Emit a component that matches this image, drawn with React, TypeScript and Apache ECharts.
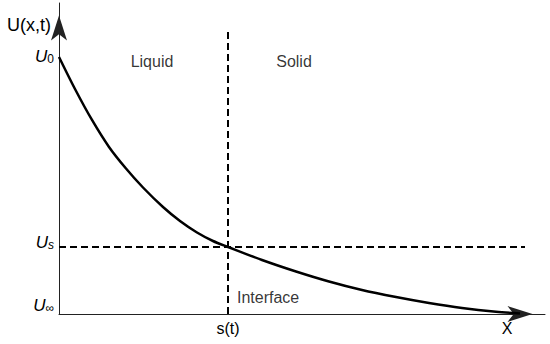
import React, { useEffect, useRef } from 'react';
import * as echarts from 'echarts';

// Axis extents (data units: x in arbitrary length units, U normalised so U∞ = 0, U0 = 1)
const X_MAX = 486;
const Y_MAX = 1.21;

// Decaying profile U(x,t)
const curveX = [0, 16, 33, 50, 67, 84, 104, 121, 138, 154, 169, 203, 237, 270, 303, 337, 370, 403, 437, 461];
const curveU = [1.0, 0.8755, 0.7549, 0.65, 0.566, 0.4922, 0.4163, 0.3619, 0.3171, 0.284, 0.2607, 0.2101, 0.1654, 0.1265, 0.0934, 0.0661, 0.0428, 0.0233, 0.0086, 0.002];

// Interface position and interface value
const S_T = 169;
const U_S = 0.2607;
const interfaceTop = 1.113;
const usLineEnd = 466;

// Tick labels
const yTickValues = [0, U_S, 1];
const yTickSubs = ['∞', 's', '0'];
const yTickSubItalic = [false, true, false];
const yTickRaise = [18, 9, 0];
const xTickValues = [S_T];
const xTickLabels = ['s(t)'];

// Region annotations
const regionNames = ['Liquid', 'Solid', 'Interface'];
const regionX = [93, 235, 178];
const regionU = [0.984, 0.984, 0.066];
const regionAlign = ['center', 'center', 'left'];

const FONT = '"Liberation Sans", Arial, Helvetica, sans-serif';

export default function App() {
  const ref = useRef<HTMLDivElement>(null);

  useEffect(() => {
    if (!ref.current) return;
    const chart = echarts.init(ref.current, undefined, { renderer: 'svg' });

    const nearestIndex = (arr: number[], v: number) => {
      let best = 0;
      for (let i = 1; i < arr.length; i++) {
        if (Math.abs(arr[i] - v) < Math.abs(arr[best] - v)) best = i;
      }
      return best;
    };

    const option: any = {
      animation: false,
      backgroundColor: '#ffffff',
      grid: { left: 59, right: 5, top: 3, bottom: 30 },
      xAxis: {
        type: 'value',
        min: 0,
        max: X_MAX,
        name: 'X',
        nameLocation: 'end',
        nameGap: -38,
        nameTextStyle: {
          fontFamily: FONT,
          fontSize: 16,
          color: '#000',
          align: 'center',
          verticalAlign: 'top',
          padding: [6, 0, 0, 0],
        },
        axisLine: {
          show: true,
          onZero: false,
          symbol: ['none', 'arrow'],
          symbolSize: [12, 25],
          symbolOffset: [0, -12.5],
          lineStyle: { color: '#222', width: 1 },
        },
        axisTick: { show: false },
        splitLine: { show: false },
        axisLabel: {
          customValues: xTickValues,
          formatter: (v: number) => xTickLabels[nearestIndex(xTickValues, v)],
          margin: 6,
          fontFamily: FONT,
          fontSize: 16,
          color: '#000',
        },
      },
      yAxis: {
        type: 'value',
        min: 0,
        max: Y_MAX,
        name: 'U(x,t)',
        nameLocation: 'end',
        nameGap: -22,
        nameTextStyle: {
          fontFamily: FONT,
          fontSize: 18,
          color: '#000',
          align: 'right',
          verticalAlign: 'middle',
          padding: [0, 8, 0, 0],
        },
        axisLine: {
          show: true,
          onZero: false,
          symbol: ['none', 'arrow'],
          symbolSize: [12, 25],
          symbolOffset: [0, -12.5],
          lineStyle: { color: '#222', width: 1 },
        },
        axisTick: { show: false },
        splitLine: { show: false },
        axisLabel: {
          customValues: yTickValues,
          margin: 5,
          formatter: (v: number) => {
            const i = nearestIndex(yTickValues, v);
            const subStyle = yTickSubItalic[i] ? 'subi' : 'sub';
            const base = `{u|U}{${subStyle}|${yTickSubs[i]}}`;
            return yTickRaise[i] > 0 ? `${base}\n{g${yTickRaise[i]}| }` : base;
          },
          rich: {
            u: { fontFamily: FONT, fontStyle: 'italic', fontSize: 17, color: '#000' },
            sub: { fontFamily: FONT, fontSize: 12, color: '#000', verticalAlign: 'bottom' },
            subi: { fontFamily: FONT, fontStyle: 'italic', fontSize: 12, color: '#000', verticalAlign: 'bottom' },
            g18: { fontSize: 1, lineHeight: 18 },
            g9: { fontSize: 1, lineHeight: 9 },
          },
        },
      },
      series: [
        {
          type: 'line',
          data: [
            [S_T, 0],
            [S_T, interfaceTop],
          ],
          symbol: 'none',
          lineStyle: { color: '#000', width: 2, type: [7, 4] },
          silent: true,
        },
        {
          type: 'line',
          data: [
            [0, U_S],
            [usLineEnd, U_S],
          ],
          symbol: 'none',
          lineStyle: { color: '#000', width: 2, type: [7, 4] },
          silent: true,
        },
        {
          type: 'line',
          data: curveX.map((x, i) => [x, curveU[i]]),
          smooth: 0.3,
          symbol: 'none',
          lineStyle: { color: '#000', width: 2.5 },
          silent: true,
        },
        {
          type: 'scatter',
          symbolSize: 0,
          silent: true,
          data: regionNames.map((n, i) => ({
            name: n,
            value: [regionX[i], regionU[i]],
            label: { align: regionAlign[i] },
          })),
          label: {
            show: true,
            position: 'inside',
            formatter: '{b}',
            fontFamily: FONT,
            fontSize: 16,
            color: '#000',
          },
        },
      ],
    };

    chart.setOption(option);
    return () => chart.dispose();
  }, []);

  return (
    <div
      ref={ref}
      style={{ position: 'fixed', left: 0, top: 0, width: 550, height: 344, background: '#fff' }}
    />
  );
}
